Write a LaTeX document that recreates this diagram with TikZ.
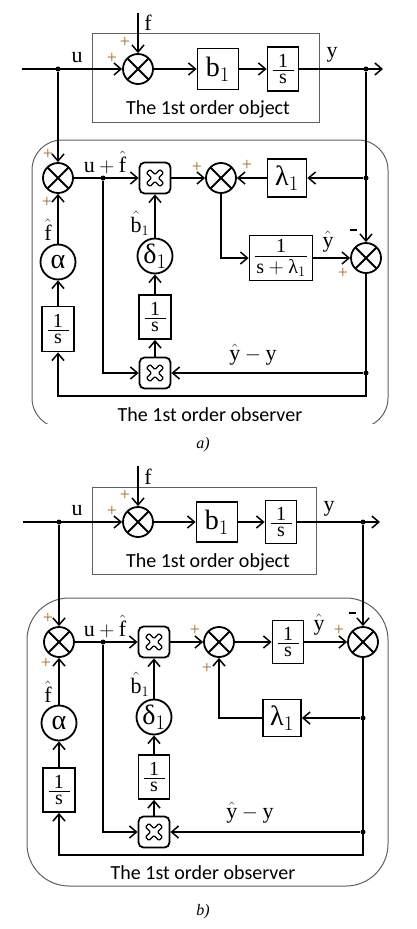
\documentclass[tikz,border=0pt]{standalone}
\usepackage{amsmath}
\usepackage{fontspec}
\setmainfont{Liberation Serif}
\newfontfamily\capfont{Carlito}
\usepackage{tikz}
\usetikzlibrary{arrows.meta}
\definecolor{signc}{RGB}{165,105,30}
\definecolor{framec}{RGB}{95,95,95}
\newcommand{\vfrac}[3]{\vbox{\hbox to #1{\hfil#2\hfil}\kern3pt\hrule height 1pt\kern3pt\hbox to #1{\hfil#3\hfil}}}

\begin{document}
\begin{tikzpicture}[
    x=1pt, y=-1pt, line width=1.8pt,
    lbl/.style  ={font=\fontsize{22}{24}\selectfont, inner sep=0pt, anchor=base},
    sgn/.style  ={text=signc, font=\fontsize{18}{20}\selectfont, inner sep=0pt},
    title/.style={font=\capfont\fontsize{20}{22}\selectfont, inner sep=0pt},
    frame/.style={draw=framec, line width=1pt},
    blk/.style  ={draw, inner sep=0pt, font=\fontsize{28}{30}\selectfont},
    frac/.style ={draw, inner sep=0pt, font=\fontsize{20}{22}\selectfont},
    gain/.style ={draw, circle, minimum size=35pt, inner sep=0pt, font=\fontsize{28}{30}\selectfont},
    sumj/.style ={draw, circle, minimum size=30pt, inner sep=0pt,
                  path picture={\draw (path picture bounding box.north west) -- (path picture bounding box.south east)
                                      (path picture bounding box.north east) -- (path picture bounding box.south west);}},
    mult/.style ={draw, rounded corners=5pt, minimum size=31pt, inner sep=0pt,
                  path picture={\draw[line width=1.3pt, rounded corners=1pt, shift={(path picture bounding box.center)}]
                                (-4.95,8.49) -- (-8.49,4.95) -- (-3.54,0) -- (-8.49,-4.95) -- (-4.95,-8.49) -- (0,-3.54)
                                -- (4.95,-8.49) -- (8.49,-4.95) -- (3.54,0) -- (8.49,4.95) -- (4.95,8.49) -- (0,3.54) -- cycle;}},
    dotn/.style ={circle, fill, inner sep=0pt, minimum size=5pt},
    arr/.style  ={-{Straight Barb[length=7pt,width=12pt,line width=1.5pt]}},
  ]
  \useasboundingbox (0,0) rectangle (417,929);
  \def\ones{\vfrac{21pt}{1}{s}}
  \def\minus{\rule[4pt]{7pt}{1.8pt}}

  % ---- a) the 1st order object ----
  \draw[frame] (92,33) rectangle (319,122);
  \node[title] (objA) at (208,109) {The 1st order object};
  \node[sumj] (sA) at (138,69) {};
  \node[blk, minimum width=41pt, minimum height=41pt] (bA) at (218,69) {$\mathrm{b}_1$};
  \node[frac, minimum width=31pt, minimum height=44pt] (isA) at (283,69) {\ones};
  \coordinate (uinA) at (22,69);
  \coordinate (youtA) at (383,69);
  \coordinate (fA) at (138,13);
  \node[dotn] (udA) at (58,69) {};
  \node[dotn] (ydA) at (366,69) {};
  \draw[arr] (uinA) -- (sA);
  \draw[arr] (fA) -- (sA);
  \draw[arr] (sA) -- (bA);
  \draw[arr] (bA) -- (isA);
  \draw[arr] (isA) -- (youtA);
  \node[lbl] (uA) at (77,62) {u};
  \node[lbl] (yA) at (332,57) {y};
  \node[lbl] (fLA) at (148,30) {f};
  \node[sgn] at (125,42) {+};
  \node[sgn] at (112,58) {+};

  % ---- a) the 1st order observer ----
  \begin{scope}
    \clip (0,130) rectangle (417,423);
    \draw[frame, rounded corners=30pt] (32,140) rectangle (388,428);
  \end{scope}
  \node[title] (obsA) at (210,415) {The 1st order observer};
  \node[sumj] (o1A) at (58,178) {};
  \node[dotn] (d3A) at (103,178) {};
  \node[mult] (m1A) at (155,178) {};
  \node[sumj] (o2A) at (221,178) {};
  \node[blk, minimum width=39pt, minimum height=38pt] (lamA) at (287,178) {λ$_1$};
  \node[dotn] (d1A) at (366,178) {};
  \node[frac, minimum width=63pt, minimum height=45pt] (rbA) at (281,258) {\vfrac{52pt}{1}{$\mathrm{s}+\mbox{λ}_1$}};
  \node[sumj] (o3A) at (366,258) {};
  \node[gain] (alA) at (58,262) {α};
  \node[gain] (deA) at (155,256) {δ$_1$};
  \node[frac, minimum width=32pt, minimum height=45pt] (l1sA) at (58,329) {\ones};
  \node[frac, minimum width=32pt, minimum height=44pt] (c1sA) at (155,317) {\ones};
  \node[mult] (m2A) at (155,373) {};
  \node[dotn] (d2A) at (366,373) {};
  \coordinate (cbA) at (366,396);
  \draw[arr] (udA) -- (o1A);
  \draw[arr] (o1A) -- (m1A);
  \draw[arr] (m1A) -- (o2A);
  \draw[arr] (lamA) -- (o2A);
  \draw[arr] (d1A) -- (lamA);
  \draw[arr] (ydA) -- (o3A);
  \draw[arr] (o2A) |- (rbA);
  \draw[arr] (rbA) -- (o3A);
  \draw[arr] (o3A) -- (cbA) -| (l1sA);
  \draw[arr] (l1sA) -- (alA);
  \draw[arr] (alA) -- (o1A);
  \draw[arr] (d3A) |- (m2A);
  \draw[arr] (d2A) -- (m2A);
  \draw[arr] (m2A) -- (c1sA);
  \draw[arr] (c1sA) -- (deA);
  \draw[arr] (deA) -- (m1A);
  \node[lbl] at (105,172) {$\mathrm{u}+\hat{\mathrm{f}}$};
  \node[lbl] at (48,240) {$\hat{\mathrm{f}}$};
  \node[lbl] at (140,232) {$\hat{\mathrm{b}}_1$};
  \node[lbl] at (328,247) {$\hat{\mathrm{y}}$};
  \node[lbl] at (253,360) {$\hat{\mathrm{y}}-\mathrm{y}$};
  \node[sgn] at (48,154) {+};
  \node[sgn] at (47,202) {+};
  \node[sgn] at (197,167) {+};
  \node[sgn] at (247,165) {+};
  \node[sgn, text=black] at (353,232) {\minus};
  \node[sgn] at (343,273) {+};
  \node[font=\itshape\fontsize{16}{18}\selectfont] (capA) at (203,445) {a)};

  % ---- b) the 1st order object ----
  \draw[frame] (92,487) rectangle (316,574);
  \node[title] (objB) at (208,562) {The 1st order object};
  \node[sumj] (sB) at (138,522) {};
  \node[blk, minimum width=41pt, minimum height=40pt] (bB) at (217,522) {$\mathrm{b}_1$};
  \node[frac, minimum width=31pt, minimum height=43pt] (isB) at (281,522) {\ones};
  \coordinate (uinB) at (23,522);
  \coordinate (youtB) at (380,522);
  \coordinate (fB) at (138,466);
  \node[dotn] (udB) at (59,522) {};
  \node[dotn] (ydB) at (363,522) {};
  \draw[arr] (uinB) -- (sB);
  \draw[arr] (fB) -- (sB);
  \draw[arr] (sB) -- (bB);
  \draw[arr] (bB) -- (isB);
  \draw[arr] (isB) -- (youtB);
  \node[lbl] (uB) at (77,515) {u};
  \node[lbl] (yB) at (329,511) {y};
  \node[lbl] (fLB) at (148,484) {f};
  \node[sgn] at (125,495) {+};
  \node[sgn] at (112,511) {+};

  % ---- b) the 1st order observer ----
  \draw[frame, rounded corners=42pt] (27,598) rectangle (388,886);
  \node[title] (obsB) at (203,873) {The 1st order observer};
  \node[sumj] (o1B) at (59,642) {};
  \node[dotn] (d3B) at (103,642) {};
  \node[mult] (m1B) at (154,642) {};
  \node[sumj] (o2B) at (219,642) {};
  \node[frac, minimum width=31pt, minimum height=43pt] (isoB) at (288,642) {\ones};
  \node[sumj] (o3B) at (363,642) {};
  \node[blk, minimum width=38pt, minimum height=37pt] (lamB) at (282,718) {λ$_1$};
  \node[dotn] (d1B) at (363,718) {};
  \node[gain] (alB) at (59,723) {α};
  \node[gain] (deB) at (154,717) {δ$_1$};
  \node[frac, minimum width=32pt, minimum height=44pt] (l1sB) at (59,790) {\ones};
  \node[frac, minimum width=31pt, minimum height=44pt] (c1sB) at (154,777) {\ones};
  \node[mult] (m2B) at (154,832) {};
  \node[dotn] (d2B) at (363,832) {};
  \coordinate (cbB) at (363,855);
  \draw[arr] (udB) -- (o1B);
  \draw[arr] (o1B) -- (m1B);
  \draw[arr] (m1B) -- (o2B);
  \draw[arr] (o2B) -- (isoB);
  \draw[arr] (isoB) -- (o3B);
  \draw[arr] (ydB) -- (o3B);
  \draw[arr] (o3B) -- (cbB) -| (l1sB);
  \draw[arr] (d1B) -- (lamB);
  \draw[arr] (lamB) -| (o2B);
  \draw[arr] (l1sB) -- (alB);
  \draw[arr] (alB) -- (o1B);
  \draw[arr] (d3B) |- (m2B);
  \draw[arr] (d2B) -- (m2B);
  \draw[arr] (m2B) -- (c1sB);
  \draw[arr] (c1sB) -- (deB);
  \draw[arr] (deB) -- (m1B);
  \node[lbl] at (105,636) {$\mathrm{u}+\hat{\mathrm{f}}$};
  \node[lbl] at (48,702) {$\hat{\mathrm{f}}$};
  \node[lbl] at (140,693) {$\hat{\mathrm{b}}_1$};
  \node[lbl] at (319,630) {$\hat{\mathrm{y}}$};
  \node[lbl] at (250,818) {$\hat{\mathrm{y}}-\mathrm{y}$};
  \node[sgn] at (48,618) {+};
  \node[sgn] at (46,663) {+};
  \node[sgn] at (195,630) {+};
  \node[sgn] at (207,668) {+};
  \node[sgn] at (339,630) {+};
  \node[sgn, text=black] at (352,615) {\minus};
  \node[font=\itshape\fontsize{16}{18}\selectfont] (capB) at (203,912) {b)};
\end{tikzpicture}
\end{document}
